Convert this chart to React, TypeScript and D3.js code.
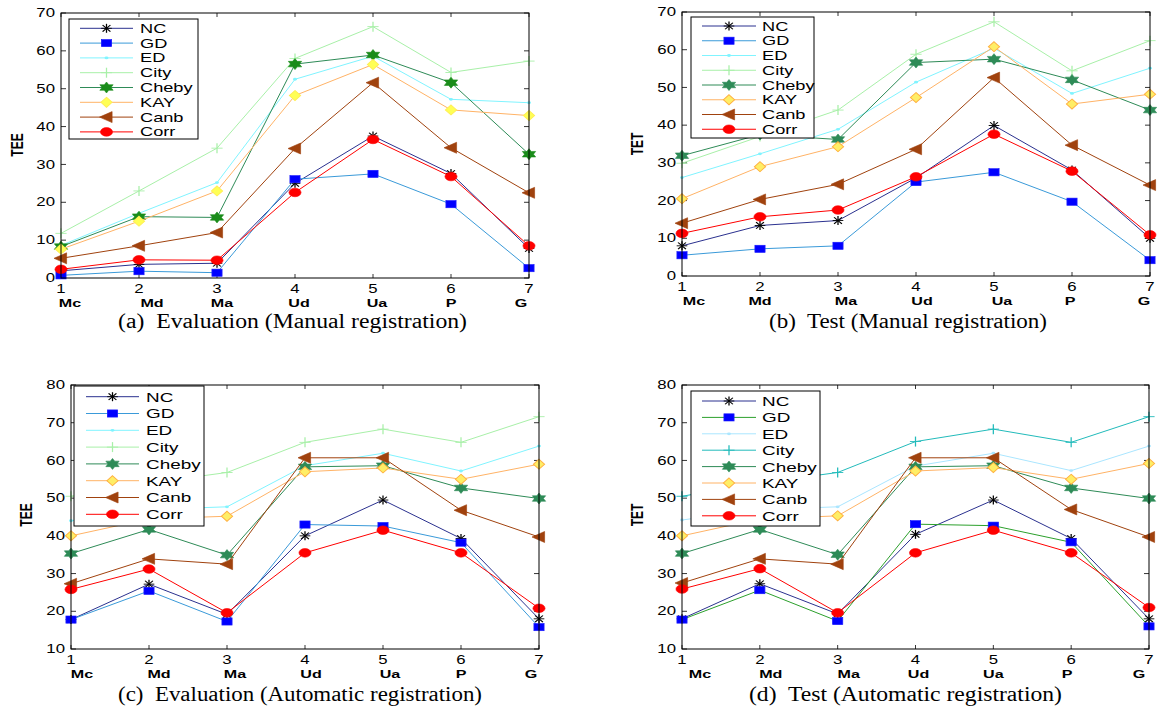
import React from 'react';
import * as d3 from 'd3';

const categories = ['Mc', 'Md', 'Ma', 'Ud', 'Ua', 'P', 'G'];
const tickNumbers = [1, 2, 3, 4, 5, 6, 7];
const seriesNames = ['NC', 'GD', 'ED', 'City', 'Cheby', 'KAY', 'Canb', 'Corr'];

// values in seriesNames order, one row per method
const evalManual = [
  [1.9, 3.6, 3.9, 25.0, 37.5, 27.6, 7.8],
  [0.7, 1.8, 1.4, 26.1, 27.5, 19.5, 2.6],
  [8.6, 17.1, 25.2, 52.5, 58.6, 47.2, 46.3],
  [11.8, 23.0, 34.3, 58.0, 66.4, 54.3, 57.3],
  [8.3, 16.2, 16.0, 56.5, 58.9, 51.6, 32.7],
  [7.6, 15.0, 23.0, 48.2, 56.4, 44.4, 42.9],
  [5.2, 8.5, 12.0, 34.2, 51.6, 34.4, 22.5],
  [2.3, 4.8, 4.7, 22.6, 36.6, 26.8, 8.5],
];

const testManual = [
  [8.0, 13.4, 14.7, 26.0, 39.9, 28.1, 10.0],
  [5.5, 7.2, 8.0, 24.9, 27.5, 19.7, 4.2],
  [26.1, 32.4, 38.9, 51.4, 60.4, 48.4, 55.1],
  [29.9, 37.0, 44.0, 58.8, 67.4, 54.4, 62.4],
  [31.9, 37.5, 36.2, 56.6, 57.5, 52.0, 44.0],
  [20.5, 29.0, 34.3, 47.3, 60.8, 45.6, 48.2],
  [14.0, 20.3, 24.3, 33.6, 52.6, 34.7, 24.1],
  [11.3, 15.7, 17.5, 26.3, 37.6, 27.8, 10.9],
];

const evalAuto = [
  [17.8, 27.2, 19.2, 40.0, 49.5, 39.3, 18.0],
  [17.8, 25.4, 17.3, 43.0, 42.6, 38.2, 15.8],
  [44.0, 47.0, 47.7, 58.6, 61.9, 57.2, 63.8],
  [50.5, 54.0, 56.8, 64.8, 68.3, 64.8, 71.6],
  [35.3, 41.7, 34.9, 58.3, 58.6, 52.7, 49.9],
  [40.0, 44.5, 45.2, 57.0, 58.0, 55.0, 59.0],
  [27.3, 33.9, 32.5, 60.7, 60.7, 46.8, 39.7],
  [25.8, 31.2, 19.6, 35.5, 41.5, 35.5, 20.8],
];

const testAuto = [
  [18.0, 27.3, 19.3, 40.4, 49.5, 39.3, 18.0],
  [17.8, 25.6, 17.4, 43.1, 42.7, 38.3, 16.0],
  [44.2, 47.0, 47.7, 58.5, 61.9, 57.3, 63.8],
  [50.5, 54.0, 56.8, 65.0, 68.3, 64.8, 71.6],
  [35.3, 41.7, 35.0, 58.3, 58.6, 52.7, 49.9],
  [40.0, 44.5, 45.3, 57.2, 58.1, 55.0, 59.2],
  [27.5, 33.9, 32.5, 60.7, 60.7, 47.0, 39.7],
  [25.9, 31.3, 19.6, 35.5, 41.5, 35.5, 21.0],
];

// the original figure is stretched horizontally
const SX = 1.4;
const SANS = '"Liberation Sans", Arial, sans-serif';
const SERIF = '"Liberation Serif", "Times New Roman", serif';

const baseStyle = {
  NC: { line: '#2b318f', marker: 'asterisk', fill: 'none', edge: '#000000' },
  GD: { line: '#3a9ad9', marker: 'square', fill: '#0000ff', edge: '#1a1aff' },
  ED: { line: '#80f4ff', marker: 'dot', fill: '#80f4ff', edge: '#80f4ff' },
  City: { line: '#a8f0a8', marker: 'plus', fill: 'none', edge: '#a8f0a8' },
  Cheby: { line: '#2e8b57', marker: 'hexagram', fill: '#2e8b57', edge: '#2e8b57' },
  KAY: { line: '#ffb366', marker: 'diamond', fill: '#ffee66', edge: '#ffb040' },
  Canb: { line: '#a0420e', marker: 'triangle', fill: '#a0420e', edge: '#a0420e' },
  Corr: { line: '#ff0000', marker: 'circle', fill: '#ff0000', edge: '#ff0000' },
};

const styleA = {
  ...baseStyle,
  Cheby: { ...baseStyle.Cheby, fill: '#1a8c1a', edge: '#1a8c1a' },
  KAY: { ...baseStyle.KAY, fill: '#ffff55', edge: '#ffee55' },
};

const styleD = {
  ...baseStyle,
  GD: { ...baseStyle.GD, line: '#2ca02c' },
  ED: { ...baseStyle.ED, line: '#aae6ff', fill: '#aae6ff', edge: '#aae6ff' },
  City: { ...baseStyle.City, line: '#22bbbb', edge: '#22bbbb' },
};

const panels = [
  {
    key: 'a', values: evalManual, style: styleA,
    left: 61, right: 529, top: 13, bottom: 278, yDomain: [0, 70],
    yLabel: 'TEE', yLabelX: 17, yLabelY: 145,
    legend: { x0: 69, x1: 198, y0: 19, y1: 139, row0: 28.3, step: 14.8, l0: 80, l1: 133, tx: 140, fs: 13 },
    caption: '(a)  Evaluation (Manual registration)', capX: 292.5, capW: 349, capY: 328,
    catShift: [9, 13, 5, 4, 4, 0, -8],
  },
  {
    key: 'b', values: testManual, style: baseStyle,
    left: 682, right: 1150, top: 12, bottom: 276, yDomain: [0, 70],
    yLabel: 'TET', yLabelX: 637, yLabelY: 144,
    legend: { x0: 691, x1: 814, y0: 17, y1: 138, row0: 26, step: 14.75, l0: 702, l1: 756, tx: 762, fs: 13 },
    caption: '(b)  Test (Manual registration)', capX: 908, capW: 278, capY: 328,
    catShift: [12, 0, 8, 6, 8, -2, -6],
  },
  {
    key: 'c', values: evalAuto, style: baseStyle,
    left: 71, right: 539, top: 385, bottom: 649, yDomain: [10, 80],
    yLabel: 'TEE', yLabelX: 26, yLabelY: 515,
    legend: { x0: 74, x1: 204, y0: 386, y1: 526, row0: 396.7, step: 16.8, l0: 86, l1: 139, tx: 146, fs: 13.5 },
    caption: '(c)  Evaluation (Automatic registration)', capX: 300, capW: 364, capY: 701,
    catShift: [11, 10, 8, 6, 7, 0, -8],
  },
  {
    key: 'd', values: testAuto, style: styleD,
    left: 682, right: 1149, top: 385, bottom: 649, yDomain: [10, 80],
    yLabel: 'TET', yLabelX: 637, yLabelY: 515,
    legend: { x0: 691, x1: 820, y0: 391, y1: 526, row0: 401, step: 16.4, l0: 702, l1: 756, tx: 762, fs: 13.5 },
    caption: '(d)  Test (Automatic registration)', capX: 905.5, capW: 313, capY: 701,
    catShift: [18, 11, 11, 3, 0, -4, -10],
  },
];

function hexagramPoints(r: number) {
  const pts: string[] = [];
  const inner = r / Math.sqrt(3);
  for (let k = 0; k < 12; k++) {
    const rr = k % 2 === 0 ? r : inner;
    const a = (-90 + k * 30) * Math.PI / 180;
    pts.push(`${(rr * Math.cos(a)).toFixed(2)},${(rr * Math.sin(a)).toFixed(2)}`);
  }
  return pts.join(' ');
}

function Marker({ x, y, st }: { x: number; y: number; st: any }) {
  let shape: any = null;
  switch (st.marker) {
    case 'asterisk':
      shape = (
        <g stroke={st.edge} strokeWidth={0.9}>
          <line x1={-3.8} y1={0} x2={3.8} y2={0} />
          <line x1={0} y1={-4.5} x2={0} y2={4.5} />
          <line x1={-2.8} y1={-3.3} x2={2.8} y2={3.3} />
          <line x1={-2.8} y1={3.3} x2={2.8} y2={-3.3} />
        </g>
      );
      break;
    case 'square':
      shape = <rect x={-3.6} y={-3.6} width={7.2} height={7.2} fill={st.fill} stroke={st.edge} strokeWidth={0.6} />;
      break;
    case 'dot':
      shape = <circle r={1.4} fill={st.fill} />;
      break;
    case 'plus':
      shape = (
        <g stroke={st.edge} strokeWidth={0.9}>
          <line x1={-4} y1={0} x2={4} y2={0} />
          <line x1={0} y1={-5} x2={0} y2={5} />
        </g>
      );
      break;
    case 'hexagram':
      shape = <polygon points={hexagramPoints(5.5)} fill={st.fill} stroke={st.edge} strokeWidth={0.5} />;
      break;
    case 'diamond':
      shape = <polygon points="0,-5 4,0 0,5 -4,0" fill={st.fill} stroke={st.edge} strokeWidth={0.8} />;
      break;
    case 'triangle':
      shape = <polygon points="-5,0 4,-5.5 4,5.5" fill={st.fill} stroke={st.edge} strokeWidth={0.5} />;
      break;
    case 'circle':
      shape = <circle r={4.3} fill={st.fill} stroke={st.edge} strokeWidth={0.5} />;
      break;
  }
  return <g transform={`translate(${x},${y}) scale(${SX},1)`}>{shape}</g>;
}

function Panel({ p }: { p: any }) {
  const x = d3.scaleLinear().domain([1, 7]).range([p.left, p.right]);
  const y = d3.scaleLinear().domain(p.yDomain).range([p.bottom, p.top]);
  const yTicks = d3.range(p.yDomain[0], p.yDomain[1] + 1, 10);
  const line = d3.line<number>().x((_, i) => x(tickNumbers[i])).y(v => y(v));
  const L = p.legend;

  return (
    <g>
      {/* ticks, inward, on all four sides */}
      <g stroke="#000" strokeWidth={0.8}>
        {yTicks.map(t => (
          <g key={'yt' + t}>
            <line x1={p.left} x2={p.left + 5} y1={y(t)} y2={y(t)} />
            <line x1={p.right} x2={p.right - 5} y1={y(t)} y2={y(t)} />
          </g>
        ))}
        {tickNumbers.map(t => (
          <g key={'xt' + t}>
            <line x1={x(t)} x2={x(t)} y1={p.bottom} y2={p.bottom - 4} />
            <line x1={x(t)} x2={x(t)} y1={p.top} y2={p.top + 4} />
          </g>
        ))}
      </g>

      {yTicks.map(t => (
        <text key={'yl' + t} transform={`translate(${p.left - 6},${y(t)}) scale(${SX},1)`}
          textAnchor="end" dominantBaseline="central" fontFamily={SANS} fontSize={12}>{t}</text>
      ))}
      {tickNumbers.map((t, i) => (
        <g key={'xl' + t}>
          <text transform={`translate(${x(t)},${p.bottom + 11}) scale(${SX},1)`}
            textAnchor="middle" dominantBaseline="central" fontFamily={SANS} fontSize={12}>{t}</text>
          <text transform={`translate(${x(t) + p.catShift[i]},${p.bottom + 25}) scale(${SX},1)`}
            textAnchor="middle" dominantBaseline="central" fontFamily={SANS} fontSize={11.5} fontWeight="bold">{categories[i]}</text>
        </g>
      ))}

      <text transform={`translate(${p.yLabelX},${p.yLabelY}) scale(${SX},1) rotate(-90)`}
        textAnchor="middle" dominantBaseline="central" fontFamily={SANS} fontSize={12} fontWeight="bold">{p.yLabel}</text>

      {/* series */}
      {seriesNames.map((name, si) => {
        const st = p.style[name];
        const vals = p.values[si];
        return (
          <g key={name}>
            <path d={line(vals) || ''} fill="none" stroke={st.line} strokeWidth={1} />
            {vals.map((v: number, i: number) => (
              <Marker key={i} x={x(tickNumbers[i])} y={y(v)} st={st} />
            ))}
          </g>
        );
      })}

      <rect x={p.left} y={p.top} width={p.right - p.left} height={p.bottom - p.top}
        fill="none" stroke="#000" strokeWidth={1} />

      {/* legend */}
      <rect x={L.x0} y={L.y0} width={L.x1 - L.x0} height={L.y1 - L.y0} fill="#fff" stroke="#000" strokeWidth={1} />
      {seriesNames.map((name, si) => {
        const st = p.style[name];
        const ry = L.row0 + si * L.step;
        return (
          <g key={'lg' + name}>
            <line x1={L.l0} x2={L.l1} y1={ry} y2={ry} stroke={st.line} strokeWidth={1} />
            <Marker x={(L.l0 + L.l1) / 2} y={ry} st={st} />
            <text transform={`translate(${L.tx},${ry}) scale(${SX},1)`} dominantBaseline="central"
              fontFamily={SANS} fontSize={L.fs}>{name}</text>
          </g>
        );
      })}

      <text x={p.capX} y={p.capY} textAnchor="middle" fontFamily={SERIF} fontSize={20}
        textLength={p.capW} lengthAdjust="spacingAndGlyphs" style={{ whiteSpace: 'pre' }}>{p.caption}</text>
    </g>
  );
}

export default function App() {
  return (
    <svg width={1168} height={707} style={{ position: 'absolute', left: 0, top: 0, background: '#fff' }}>
      <rect width={1168} height={707} fill="#fff" />
      {panels.map(p => <Panel key={p.key} p={p} />)}
    </svg>
  );
}
